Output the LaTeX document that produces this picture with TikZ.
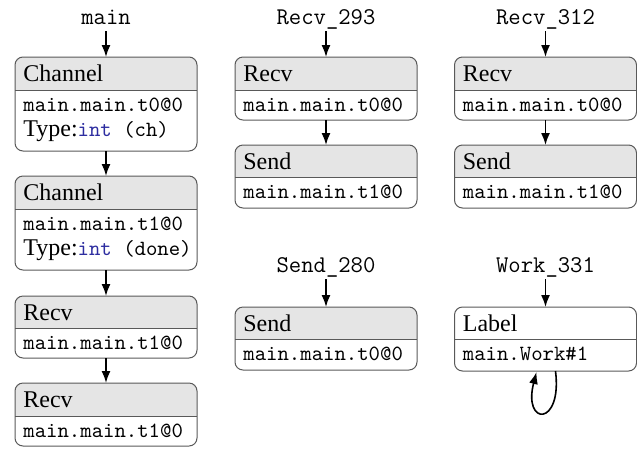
\documentclass[tikz,border=0pt]{standalone}
\usepackage{fontspec}
\setmainfont{Liberation Serif}
\usetikzlibrary{arrows.meta,calc}
\definecolor{kw}{RGB}{45,45,160}
\definecolor{hdr}{gray}{0.9}
\definecolor{edgec}{gray}{0.35}
\tikzset{
  boxnode/.style={inner sep=0pt, outer sep=0pt, minimum width=91pt, anchor=north west},
  hd/.style={inner sep=0pt, anchor=base west, font=\fontsize{12}{14}\selectfont},
  bd/.style={inner sep=0pt, anchor=base west, font=\fontsize{10.85}{13}\selectfont\ttfamily},
  lbl/.style={inner sep=3.5pt, text depth=0pt, anchor=base, font=\fontsize{12}{14}\selectfont\ttfamily},
  arr/.style={-{Latex[length=6pt,width=4.5pt]}, line width=0.8pt, black},
  border/.style={draw=edgec, line width=0.5pt, rounded corners=4pt},
}
% name, left, top, hline, bottom, header fill
\newcommand{\mkbox}[6]{%
  \node[boxnode, minimum height={(#5-#3)*0.5pt}] (#1) at (#2,#3) {};
  \begin{scope}
    \clip[rounded corners=4pt] (#1.south west) rectangle (#1.north east);
    \fill[#6] (#1.north west) rectangle (#2+182,#4);
  \end{scope}
  \draw[edgec, line width=0.5pt] (#2,#4) -- (#2+182,#4);
  \draw[border] (#1.south west) rectangle (#1.north east);
}
\begin{document}
\begin{tikzpicture}[x=0.5pt,y=-0.5pt]
\useasboundingbox (0,0) rectangle (637,456);

% ---------- column 1 ----------
\node[lbl] (l1) at (106,24) {main};
\mkbox{A}{15}{57}{90}{151}{hdr}
\node[hd] (Ah) at (23,81.5) {Channel};
\node[bd] (Ab1) at (23,111.5) {main.main.t0@0};
\node[bd] (Ab2) at (23,136.5) {{\rmfamily\fontsize{12}{14}\selectfont Type:}\textcolor{kw}{int} (ch)};

\mkbox{B}{15}{176}{209}{270}{hdr}
\node[hd] (Bh) at (23,200.5) {Channel};
\node[bd] (Bb1) at (23,230.5) {main.main.t1@0};
\node[bd] (Bb2) at (23,255.5) {{\rmfamily\fontsize{12}{14}\selectfont Type:}\textcolor{kw}{int} (done)};

\mkbox{C}{15}{296}{328}{358}{hdr}
\node[hd] (Ch) at (23,320.5) {Recv};
\node[bd] (Cb1) at (23,349.5) {main.main.t1@0};

\mkbox{D}{15}{383}{416}{446}{hdr}
\node[hd] (Dh) at (23,407.5) {Recv};
\node[bd] (Db1) at (23,437) {main.main.t1@0};

\draw[arr] (l1) -- (A);
\draw[arr] (A) -- (B);
\draw[arr] (B) -- (C);
\draw[arr] (C) -- (D);

% ---------- column 2 ----------
\node[lbl] (l2) at (326,24) {Recv\_293};
\mkbox{E}{235}{57}{90}{120}{hdr}
\node[hd] (Eh) at (243,81.5) {Recv};
\node[bd] (Eb1) at (243,111.5) {main.main.t0@0};

\mkbox{F}{235}{145}{177}{208}{hdr}
\node[hd] (Fh) at (243,169.5) {Send};
\node[bd] (Fb1) at (243,198.5) {main.main.t1@0};

\draw[arr] (l2) -- (E);
\draw[arr] (E) -- (F);

\node[lbl] (l4) at (326,272) {Send\_280};
\mkbox{G}{235}{307}{339}{370}{hdr}
\node[hd] (Gh) at (243,331.5) {Send};
\node[bd] (Gb1) at (243,360.5) {main.main.t0@0};
\draw[arr] (l4) -- (G);

% ---------- column 3 ----------
\node[lbl] (l3) at (545.5,24) {Recv\_312};
\mkbox{H}{454.5}{57}{90}{120}{hdr}
\node[hd] (Hh) at (462.5,81.5) {Recv};
\node[bd] (Hb1) at (462.5,111.5) {main.main.t0@0};

\mkbox{I}{454.5}{145}{177}{208}{hdr}
\node[hd] (Ih) at (462.5,169.5) {Send};
\node[bd] (Ib1) at (462.5,198.5) {main.main.t1@0};

\draw[arr] (l3) -- (H);
\draw[arr] (H) -- (I);

\node[lbl] (l5) at (545.5,272) {Work\_331};
\mkbox{J}{454.5}{307}{339}{371}{white}
\node[hd] (Jh) at (462.5,331.5) {Label};
\node[bd] (Jb1) at (462.5,360.5) {main.Work\#1};
\draw[arr] (l5) -- (J);
\draw[arr] ($(J.south)+(10,0)$) .. controls +(7,56) and +(-14,54) .. ($(J.south)+(-9,1)$);

\end{tikzpicture}
\end{document}
